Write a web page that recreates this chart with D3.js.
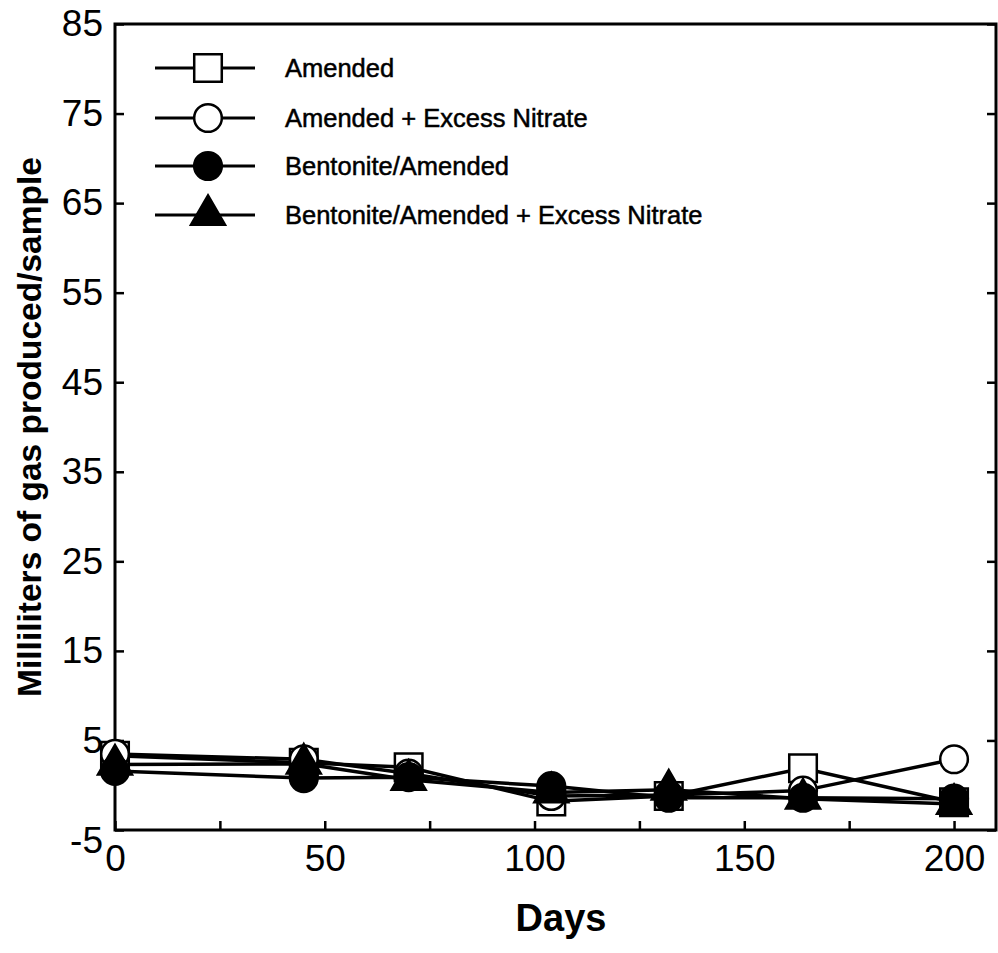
<!DOCTYPE html>
<html><head><meta charset="utf-8">
<script src="https://cdn.jsdelivr.net/npm/d3@7"></script>
<style>body{margin:0;background:#fff} svg{display:block}</style>
</head><body>
<script>
const days = [0, 45, 70, 104, 132, 164, 200];
const amended = [3.3, 2.5, 2.0, -1.8, -1.2, 1.9, -1.9];
const amendedNitrate = [3.5, 2.9, 1.3, -1.2, -1.1, -0.6, 2.9];
const bentonite = [1.6, 0.8, 0.9, -0.1, -1.4, -1.4, -1.5];
const bentoniteNitrate = [2.3, 2.4, 0.6, -0.8, -0.5, -1.5, -2.1];
const seriesNames = ["Amended", "Amended + Excess Nitrate", "Bentonite/Amended", "Bentonite/Amended + Excess Nitrate"];
const yTickValues = [-5, 5, 15, 25, 35, 45, 55, 65, 75, 85];
const xTickValues = [0, 50, 100, 150, 200];
const xMinorTicks = [0, 25, 50, 75, 100, 125, 150, 175, 200];

const W = 998, H = 953;
const L = 115, R = 996, T = 24, B = 830;
const FONT = "Liberation Sans, Arial, Helvetica, sans-serif";
const svg = d3.select("body").append("svg").attr("width", W).attr("height", H);
const x = d3.scaleLinear().domain([0, 210]).range([L, R]);
const y = d3.scaleLinear().domain([-5, 85]).range([B, T]);

const series = [
  {name: seriesNames[0], vals: amended, sym: d3.symbolSquare, size: 760, fill: "#fff"},
  {name: seriesNames[1], vals: amendedNitrate, sym: d3.symbolCircle, size: 600, fill: "#fff"},
  {name: seriesNames[2], vals: bentonite, sym: d3.symbolCircle, size: 600, fill: "#000"},
  {name: seriesNames[3], vals: bentoniteNitrate, sym: d3.symbolTriangle, size: 500, fill: "#000"}
];

// frame
svg.append("rect").attr("x", L).attr("y", T).attr("width", R - L).attr("height", B - T)
  .attr("fill", "none").attr("stroke", "#000").attr("stroke-width", 3);

// axes
const gx = svg.append("g").attr("transform", `translate(0,${B})`)
  .call(d3.axisBottom(x).tickValues(xMinorTicks).tickSizeInner(-9).tickSizeOuter(0)
    .tickFormat(d => xTickValues.includes(d) ? String(d) : ""));
gx.select(".domain").remove();
gx.selectAll(".tick line").attr("stroke-width", 2.5);
gx.selectAll(".tick text").attr("font-family", FONT)
  .attr("font-size", 37).attr("fill", "#000").attr("dy", "0.95em").attr("y", 6);

const gy = svg.append("g").attr("transform", `translate(${L},0)`)
  .call(d3.axisLeft(y).tickValues(yTickValues).tickSizeInner(-9).tickSizeOuter(0)
    .tickFormat(d => String(d)));
gy.select(".domain").remove();
gy.selectAll(".tick line").attr("stroke-width", 2.5);
gy.selectAll(".tick text").attr("font-family", FONT)
  .attr("font-size", 37).attr("fill", "#000").attr("x", -12)
  .attr("dy", d => d === -5 ? "0.6em" : "0.32em");

const gyr = svg.append("g").attr("transform", `translate(${R},0)`)
  .call(d3.axisRight(y).tickValues(yTickValues).tickSizeInner(-9).tickSizeOuter(0).tickFormat(""));
gyr.select(".domain").remove();
gyr.selectAll(".tick line").attr("stroke-width", 2.5);

// titles
svg.append("text").attr("x", 561).attr("y", 931).attr("text-anchor", "middle")
  .attr("font-family", FONT).attr("font-weight", "bold")
  .attr("font-size", 38).text("Days");
svg.append("text").attr("transform", `translate(41,${(T + B) / 2}) rotate(-90)`)
  .attr("text-anchor", "middle")
  .attr("font-family", FONT).attr("font-weight", "bold")
  .attr("font-size", 33.5).text("Milliliters of gas produced/sample");

// lines
const line = d3.line().x((d, i) => x(days[i])).y(d => y(d));
series.forEach(s => {
  svg.append("path").datum(s.vals).attr("d", line).attr("fill", "none")
    .attr("stroke", "#000").attr("stroke-width", 3.5);
});
// markers
series.forEach(s => {
  svg.append("g").selectAll("path").data(s.vals).join("path")
    .attr("d", d3.symbol().type(s.sym).size(s.size))
    .attr("transform", (d, i) => `translate(${x(days[i])},${y(d)})`)
    .attr("fill", s.fill).attr("stroke", "#000").attr("stroke-width", 2.5);
});

// legend
const legY = [68, 118, 166, 215];
series.forEach((s, i) => {
  const g = svg.append("g").attr("transform", `translate(0,${legY[i]})`);
  g.append("line").attr("x1", 155).attr("x2", 255).attr("y1", 0).attr("y2", 0)
    .attr("stroke", "#000").attr("stroke-width", 3);
  g.append("path").attr("d", d3.symbol().type(s.sym).size(s.size))
    .attr("transform", "translate(208,0)").attr("fill", s.fill)
    .attr("stroke", "#000").attr("stroke-width", 2.5);
  g.append("text").attr("x", 285).attr("y", 0).attr("dy", "0.35em")
    .attr("font-family", FONT).attr("stroke", "#000").attr("stroke-width", 0.5)
    .attr("font-size", 25.5).text(s.name);
});
</script>
</body></html>
